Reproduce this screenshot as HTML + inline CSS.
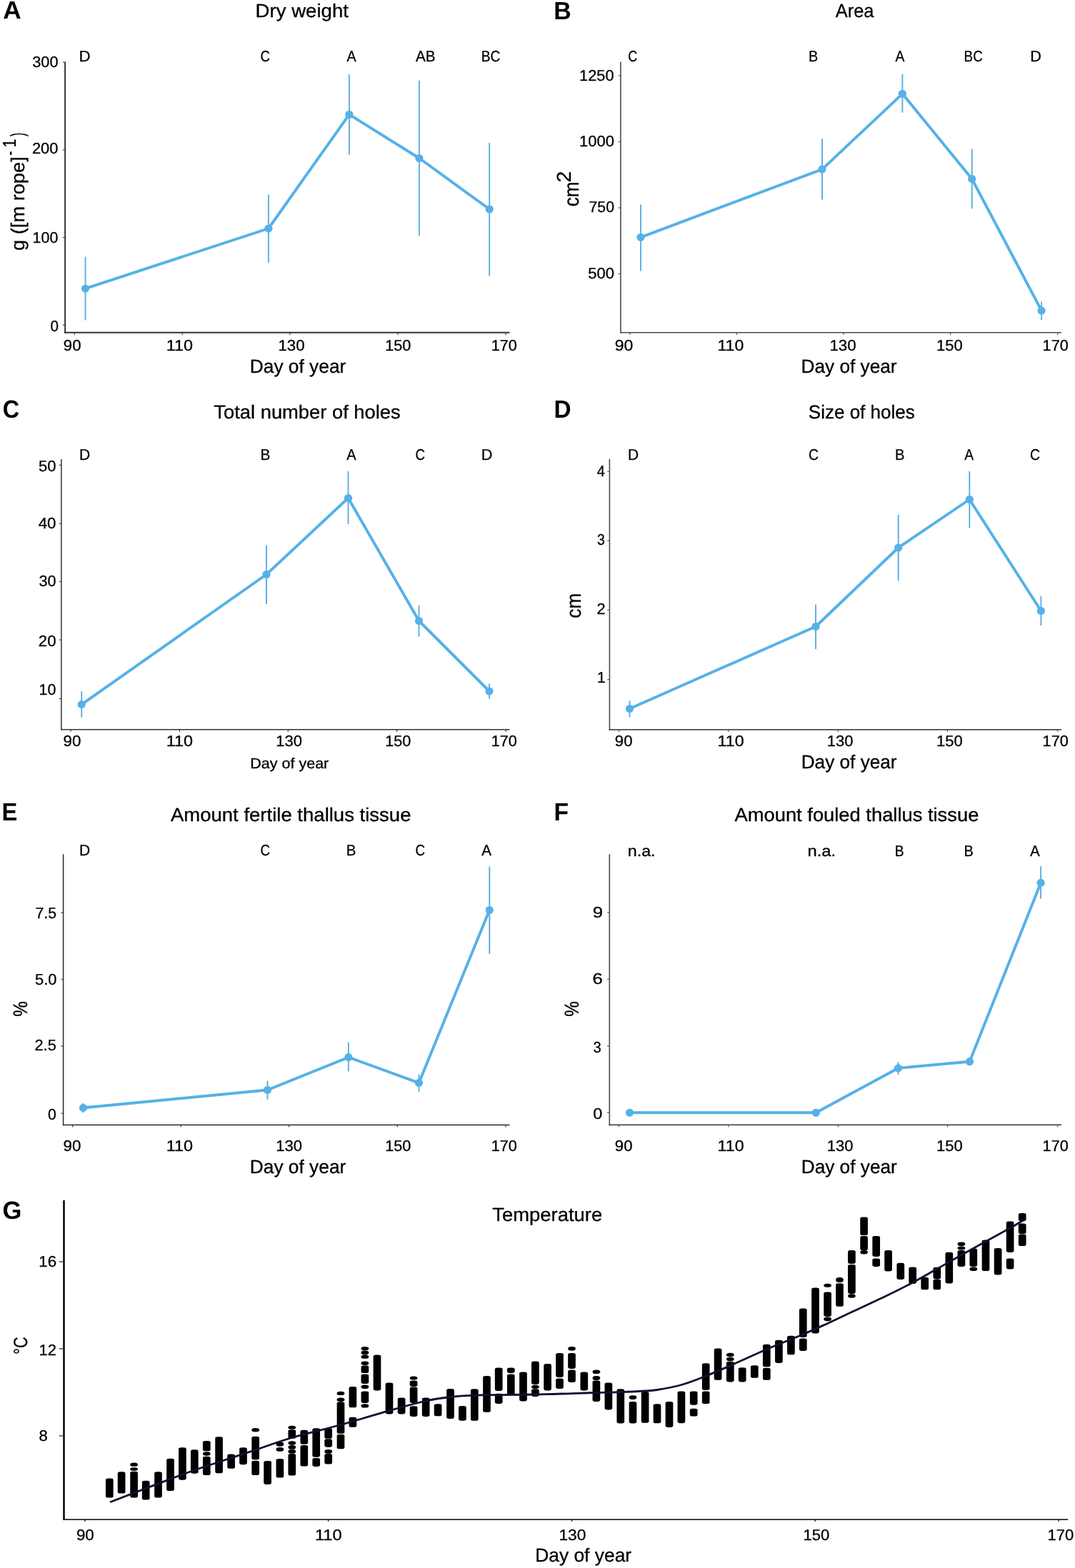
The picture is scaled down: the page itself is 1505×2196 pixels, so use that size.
<!DOCTYPE html>
<html lang="en">
<head>
<meta charset="utf-8">
<title>Figure</title>
<style>html,body{margin:0;padding:0;background:#fff}svg{display:block}</style>
</head>
<body>
<svg width="1505" height="2196" viewBox="0 0 1505 2196" font-family='"Liberation Sans", "DejaVu Sans", sans-serif' text-rendering="geometricPrecision">
<rect width="1505" height="2196" fill="#fff"/>
<line x1="91.15" y1="86.80" x2="91.15" y2="466.80" stroke="#333" stroke-width="2.0" stroke-linecap="butt"/>
<line x1="90.15" y1="465.80" x2="713.50" y2="465.80" stroke="#333" stroke-width="2.0" stroke-linecap="butt"/>
<line x1="87.75" y1="87.10" x2="91.15" y2="87.10" stroke="#333" stroke-width="1.1" stroke-linecap="butt"/>
<text transform="matrix(1.0131 0 0 1 45.15 94.32)" font-size="21.5" stroke="#000" stroke-width="0.3" fill="#000">300</text>
<line x1="87.75" y1="210.00" x2="91.15" y2="210.00" stroke="#333" stroke-width="1.1" stroke-linecap="butt"/>
<text transform="matrix(1.0171 0 0 1 44.91 214.92)" font-size="21.5" stroke="#000" stroke-width="0.3" fill="#000">200</text>
<line x1="87.75" y1="332.60" x2="91.15" y2="332.60" stroke="#333" stroke-width="1.1" stroke-linecap="butt"/>
<text transform="matrix(0.9973 0 0 1 45.60 339.52)" font-size="21.5" stroke="#000" stroke-width="0.3" fill="#000">100</text>
<line x1="87.75" y1="455.20" x2="91.15" y2="455.20" stroke="#333" stroke-width="1.1" stroke-linecap="butt"/>
<text transform="matrix(0.9587 0 0 1 70.38 463.72)" font-size="21.5" stroke="#000" stroke-width="0.3" fill="#000">0</text>
<line x1="104.20" y1="465.80" x2="104.20" y2="469.20" stroke="#333" stroke-width="1.1" stroke-linecap="butt"/>
<text transform="matrix(1.0324 0 0 1 88.81 490.80)" font-size="21.5" stroke="#000" stroke-width="0.3" fill="#000">90</text>
<line x1="255.10" y1="465.80" x2="255.10" y2="469.20" stroke="#333" stroke-width="1.1" stroke-linecap="butt"/>
<text transform="matrix(1.0908 0 0 1 232.66 490.80)" font-size="21.5" stroke="#000" stroke-width="0.3" fill="#000">110</text>
<line x1="405.90" y1="465.80" x2="405.90" y2="469.20" stroke="#333" stroke-width="1.1" stroke-linecap="butt"/>
<text transform="matrix(1.0360 0 0 1 389.44 490.80)" font-size="21.5" stroke="#000" stroke-width="0.3" fill="#000">130</text>
<line x1="557.00" y1="465.80" x2="557.00" y2="469.20" stroke="#333" stroke-width="1.1" stroke-linecap="butt"/>
<text transform="matrix(1.0092 0 0 1 539.18 490.80)" font-size="21.5" stroke="#000" stroke-width="0.3" fill="#000">150</text>
<line x1="708.10" y1="465.80" x2="708.10" y2="469.20" stroke="#333" stroke-width="1.1" stroke-linecap="butt"/>
<text transform="matrix(1.0092 0 0 1 687.68 490.80)" font-size="21.5" stroke="#000" stroke-width="0.3" fill="#000">170</text>
<line x1="119.50" y1="359.50" x2="119.50" y2="448.60" stroke="#5aaee3" stroke-width="1.9" stroke-linecap="butt"/>
<line x1="375.90" y1="272.50" x2="375.90" y2="368.00" stroke="#5aaee3" stroke-width="1.9" stroke-linecap="butt"/>
<line x1="488.90" y1="103.90" x2="488.90" y2="216.50" stroke="#5aaee3" stroke-width="1.9" stroke-linecap="butt"/>
<line x1="586.90" y1="112.80" x2="586.90" y2="330.00" stroke="#5aaee3" stroke-width="1.9" stroke-linecap="butt"/>
<line x1="685.20" y1="200.10" x2="685.20" y2="386.50" stroke="#5aaee3" stroke-width="1.9" stroke-linecap="butt"/>
<path d="M119.50 404.10 L375.90 320.00 L488.90 160.30 L586.90 221.50 L685.20 293.00" fill="none" stroke="#55b1e7" stroke-width="3.9" stroke-linejoin="round" stroke-linecap="round"/>
<circle cx="119.50" cy="404.10" r="5.6" fill="#55b1e7"/>
<circle cx="375.90" cy="320.00" r="5.6" fill="#55b1e7"/>
<circle cx="488.90" cy="160.30" r="5.6" fill="#55b1e7"/>
<circle cx="586.90" cy="221.50" r="5.6" fill="#55b1e7"/>
<circle cx="685.20" cy="293.00" r="5.6" fill="#55b1e7"/>
<text transform="matrix(1.0084 0 0 1 4.29 26.30)" font-size="35" font-weight="bold" fill="#000">A</text>
<text transform="matrix(1.0453 0 0 1 357.59 23.50)" font-size="26.4" stroke="#000" stroke-width="0.3" fill="#000">Dry weight</text>
<text transform="matrix(1.0388 0 0 1 110.41 85.50)" font-size="21.5" stroke="#000" stroke-width="0.3" fill="#000">D</text>
<text transform="matrix(0.8648 0 0 1 364.47 85.50)" font-size="21.5" stroke="#000" stroke-width="0.3" fill="#000">C</text>
<text transform="matrix(0.9163 0 0 1 485.40 85.50)" font-size="21.5" stroke="#000" stroke-width="0.3" fill="#000">A</text>
<text transform="matrix(0.9577 0 0 1 582.00 85.50)" font-size="21.5" stroke="#000" stroke-width="0.3" fill="#000">AB</text>
<text transform="matrix(0.8960 0 0 1 673.66 85.50)" font-size="21.5" stroke="#000" stroke-width="0.3" fill="#000">BC</text>
<text transform="matrix(0.9967 0 0 1 349.79 521.70)" font-size="26.4" stroke="#000" stroke-width="0.3" fill="#000">Day of year</text>
<text transform="translate(33.60 350.89) rotate(-90) scale(1.0313 1)" font-size="26.4" stroke="#000" stroke-width="0.3" fill="#000">g ([m rope]</text>
<text transform="translate(21.50 217.72) rotate(-90) scale(0.6923 1)" font-size="26" stroke="#000" stroke-width="0.3" fill="#000">-</text>
<text transform="translate(21.50 206.50) rotate(-90) scale(0.8217 1)" font-size="26" stroke="#000" stroke-width="0.3" fill="#000">1</text>
<text transform="translate(33.60 191.00) rotate(-90) scale(0.5455 1)" font-size="27.5" stroke="#000" stroke-width="0.3" fill="#000">)</text>
<line x1="868.90" y1="86.60" x2="868.90" y2="466.60" stroke="#4a4a4a" stroke-width="1.6" stroke-linecap="butt"/>
<line x1="868.10" y1="465.80" x2="1486.00" y2="465.80" stroke="#4a4a4a" stroke-width="1.6" stroke-linecap="butt"/>
<line x1="865.70" y1="105.90" x2="868.90" y2="105.90" stroke="#4a4a4a" stroke-width="1.1" stroke-linecap="butt"/>
<text transform="matrix(1.0121 0 0 1 811.08 112.72)" font-size="21.5" stroke="#000" stroke-width="0.3" fill="#000">1250</text>
<line x1="865.70" y1="198.60" x2="868.90" y2="198.60" stroke="#4a4a4a" stroke-width="1.1" stroke-linecap="butt"/>
<text transform="matrix(1.0231 0 0 1 811.06 205.42)" font-size="21.5" stroke="#000" stroke-width="0.3" fill="#000">1000</text>
<line x1="865.70" y1="291.00" x2="868.90" y2="291.00" stroke="#4a4a4a" stroke-width="1.1" stroke-linecap="butt"/>
<text transform="matrix(0.9877 0 0 1 824.54 297.42)" font-size="21.5" stroke="#000" stroke-width="0.3" fill="#000">750</text>
<line x1="865.70" y1="383.40" x2="868.90" y2="383.40" stroke="#4a4a4a" stroke-width="1.1" stroke-linecap="butt"/>
<text transform="matrix(1.0253 0 0 1 823.22 390.22)" font-size="21.5" stroke="#000" stroke-width="0.3" fill="#000">500</text>
<line x1="881.90" y1="465.80" x2="881.90" y2="469.00" stroke="#4a4a4a" stroke-width="1.1" stroke-linecap="butt"/>
<text transform="matrix(1.0728 0 0 1 860.68 490.80)" font-size="21.5" stroke="#000" stroke-width="0.3" fill="#000">90</text>
<line x1="1031.40" y1="465.80" x2="1031.40" y2="469.00" stroke="#4a4a4a" stroke-width="1.1" stroke-linecap="butt"/>
<text transform="matrix(1.0721 0 0 1 1004.49 490.80)" font-size="21.5" stroke="#000" stroke-width="0.3" fill="#000">110</text>
<line x1="1181.00" y1="465.80" x2="1181.00" y2="469.00" stroke="#4a4a4a" stroke-width="1.1" stroke-linecap="butt"/>
<text transform="matrix(1.0390 0 0 1 1161.44 490.80)" font-size="21.5" stroke="#000" stroke-width="0.3" fill="#000">130</text>
<line x1="1330.60" y1="465.80" x2="1330.60" y2="469.00" stroke="#4a4a4a" stroke-width="1.1" stroke-linecap="butt"/>
<text transform="matrix(1.0212 0 0 1 1311.06 490.80)" font-size="21.5" stroke="#000" stroke-width="0.3" fill="#000">150</text>
<line x1="1480.70" y1="465.80" x2="1480.70" y2="469.00" stroke="#4a4a4a" stroke-width="1.1" stroke-linecap="butt"/>
<text transform="matrix(1.0092 0 0 1 1459.58 490.80)" font-size="21.5" stroke="#000" stroke-width="0.3" fill="#000">170</text>
<line x1="897.00" y1="286.40" x2="897.00" y2="379.40" stroke="#5aaee3" stroke-width="1.9" stroke-linecap="butt"/>
<line x1="1151.00" y1="194.60" x2="1151.00" y2="279.40" stroke="#5aaee3" stroke-width="1.9" stroke-linecap="butt"/>
<line x1="1263.40" y1="104.00" x2="1263.40" y2="157.80" stroke="#5aaee3" stroke-width="1.9" stroke-linecap="butt"/>
<line x1="1360.70" y1="208.60" x2="1360.70" y2="292.30" stroke="#5aaee3" stroke-width="1.9" stroke-linecap="butt"/>
<line x1="1458.10" y1="422.50" x2="1458.10" y2="448.40" stroke="#5aaee3" stroke-width="1.9" stroke-linecap="butt"/>
<path d="M897.00 332.30 L1151.00 237.10 L1263.40 131.30 L1360.70 250.50 L1458.10 435.00" fill="none" stroke="#55b1e7" stroke-width="3.9" stroke-linejoin="round" stroke-linecap="round"/>
<circle cx="897.00" cy="332.30" r="5.6" fill="#55b1e7"/>
<circle cx="1151.00" cy="237.10" r="5.6" fill="#55b1e7"/>
<circle cx="1263.40" cy="131.30" r="5.6" fill="#55b1e7"/>
<circle cx="1360.70" cy="250.50" r="5.6" fill="#55b1e7"/>
<circle cx="1458.10" cy="435.00" r="5.6" fill="#55b1e7"/>
<text transform="matrix(0.9677 0 0 1 775.37 26.70)" font-size="35" font-weight="bold" fill="#000">B</text>
<text transform="matrix(0.9630 0 0 1 1169.80 24.30)" font-size="26.4" stroke="#000" stroke-width="0.3" fill="#000">Area</text>
<text transform="matrix(0.8430 0 0 1 879.29 85.50)" font-size="21.5" stroke="#000" stroke-width="0.3" fill="#000">C</text>
<text transform="matrix(0.9216 0 0 1 1131.91 85.50)" font-size="21.5" stroke="#000" stroke-width="0.3" fill="#000">B</text>
<text transform="matrix(0.8955 0 0 1 1253.50 85.50)" font-size="21.5" stroke="#000" stroke-width="0.3" fill="#000">A</text>
<text transform="matrix(0.8741 0 0 1 1349.60 85.50)" font-size="21.5" stroke="#000" stroke-width="0.3" fill="#000">BC</text>
<text transform="matrix(1.0078 0 0 1 1442.27 85.50)" font-size="21.5" stroke="#000" stroke-width="0.3" fill="#000">D</text>
<text transform="matrix(0.9929 0 0 1 1121.60 521.70)" font-size="26.4" stroke="#000" stroke-width="0.3" fill="#000">Day of year</text>
<text transform="translate(810.10 289.24) rotate(-90) scale(0.8999 1)" font-size="29" stroke="#000" stroke-width="0.3" fill="#000">cm</text>
<text transform="translate(798.60 255.51) rotate(-90) scale(1.0166 1)" font-size="27.8" stroke="#000" stroke-width="0.3" fill="#000">2</text>
<line x1="85.90" y1="643.00" x2="85.90" y2="1022.55" stroke="#333" stroke-width="1.5" stroke-linecap="butt"/>
<line x1="85.15" y1="1021.80" x2="713.50" y2="1021.80" stroke="#333" stroke-width="1.5" stroke-linecap="butt"/>
<line x1="82.75" y1="651.40" x2="85.90" y2="651.40" stroke="#333" stroke-width="1.1" stroke-linecap="butt"/>
<text transform="matrix(1.0235 0 0 1 54.02 660.02)" font-size="21.5" stroke="#000" stroke-width="0.3" fill="#000">50</text>
<line x1="82.75" y1="733.20" x2="85.90" y2="733.20" stroke="#333" stroke-width="1.1" stroke-linecap="butt"/>
<text transform="matrix(1.0393 0 0 1 53.65 739.62)" font-size="21.5" stroke="#000" stroke-width="0.3" fill="#000">40</text>
<line x1="82.75" y1="814.60" x2="85.90" y2="814.60" stroke="#333" stroke-width="1.1" stroke-linecap="butt"/>
<text transform="matrix(1.0048 0 0 1 54.45 821.02)" font-size="21.5" stroke="#000" stroke-width="0.3" fill="#000">30</text>
<line x1="82.75" y1="896.10" x2="85.90" y2="896.10" stroke="#333" stroke-width="1.1" stroke-linecap="butt"/>
<text transform="matrix(1.0334 0 0 1 53.79 905.02)" font-size="21.5" stroke="#000" stroke-width="0.3" fill="#000">20</text>
<line x1="82.75" y1="978.50" x2="85.90" y2="978.50" stroke="#333" stroke-width="1.1" stroke-linecap="butt"/>
<text transform="matrix(0.9985 0 0 1 54.60 973.42)" font-size="21.5" stroke="#000" stroke-width="0.3" fill="#000">10</text>
<line x1="99.00" y1="1021.80" x2="99.00" y2="1024.95" stroke="#333" stroke-width="1.1" stroke-linecap="butt"/>
<text transform="matrix(1.0414 0 0 1 88.60 1045.40)" font-size="21.5" stroke="#000" stroke-width="0.3" fill="#000">90</text>
<line x1="251.40" y1="1021.80" x2="251.40" y2="1024.95" stroke="#333" stroke-width="1.1" stroke-linecap="butt"/>
<text transform="matrix(1.0908 0 0 1 232.66 1045.40)" font-size="21.5" stroke="#000" stroke-width="0.3" fill="#000">110</text>
<line x1="403.30" y1="1021.80" x2="403.30" y2="1024.95" stroke="#333" stroke-width="1.1" stroke-linecap="butt"/>
<text transform="matrix(1.0241 0 0 1 386.26 1045.40)" font-size="21.5" stroke="#000" stroke-width="0.3" fill="#000">130</text>
<line x1="555.60" y1="1021.80" x2="555.60" y2="1024.95" stroke="#333" stroke-width="1.1" stroke-linecap="butt"/>
<text transform="matrix(1.0092 0 0 1 539.18 1045.40)" font-size="21.5" stroke="#000" stroke-width="0.3" fill="#000">150</text>
<line x1="708.10" y1="1021.80" x2="708.10" y2="1024.95" stroke="#333" stroke-width="1.1" stroke-linecap="butt"/>
<text transform="matrix(1.0092 0 0 1 687.68 1045.40)" font-size="21.5" stroke="#000" stroke-width="0.3" fill="#000">170</text>
<line x1="114.20" y1="968.20" x2="114.20" y2="1004.80" stroke="#5aaee3" stroke-width="1.9" stroke-linecap="butt"/>
<line x1="373.00" y1="763.50" x2="373.00" y2="846.00" stroke="#5aaee3" stroke-width="1.9" stroke-linecap="butt"/>
<line x1="487.50" y1="660.00" x2="487.50" y2="734.00" stroke="#5aaee3" stroke-width="1.9" stroke-linecap="butt"/>
<line x1="586.50" y1="848.00" x2="586.50" y2="891.50" stroke="#5aaee3" stroke-width="1.9" stroke-linecap="butt"/>
<line x1="685.00" y1="957.50" x2="685.00" y2="978.50" stroke="#5aaee3" stroke-width="1.9" stroke-linecap="butt"/>
<path d="M114.20 986.60 L373.00 804.50 L487.50 697.50 L586.50 869.50 L685.00 968.00" fill="none" stroke="#55b1e7" stroke-width="3.9" stroke-linejoin="round" stroke-linecap="round"/>
<circle cx="114.20" cy="986.60" r="5.6" fill="#55b1e7"/>
<circle cx="373.00" cy="804.50" r="5.6" fill="#55b1e7"/>
<circle cx="487.50" cy="697.50" r="5.6" fill="#55b1e7"/>
<circle cx="586.50" cy="869.50" r="5.6" fill="#55b1e7"/>
<circle cx="685.00" cy="968.00" r="5.6" fill="#55b1e7"/>
<text transform="matrix(0.9264 0 0 1 3.70 584.60)" font-size="35" font-weight="bold" fill="#000">C</text>
<text transform="matrix(1.0359 0 0 1 299.35 585.90)" font-size="26.4" stroke="#000" stroke-width="0.3" fill="#000">Total number of holes</text>
<text transform="matrix(0.9767 0 0 1 111.02 643.90)" font-size="21.5" stroke="#000" stroke-width="0.3" fill="#000">D</text>
<text transform="matrix(0.9647 0 0 1 364.44 643.90)" font-size="21.5" stroke="#000" stroke-width="0.3" fill="#000">B</text>
<text transform="matrix(0.9302 0 0 1 485.30 643.90)" font-size="21.5" stroke="#000" stroke-width="0.3" fill="#000">A</text>
<text transform="matrix(0.8721 0 0 1 581.56 643.90)" font-size="21.5" stroke="#000" stroke-width="0.3" fill="#000">C</text>
<text transform="matrix(1.0078 0 0 1 673.77 643.90)" font-size="21.5" stroke="#000" stroke-width="0.3" fill="#000">D</text>
<text transform="matrix(1.0504 0 0 1 350.18 1076.30)" font-size="20.5" stroke="#000" stroke-width="0.3" fill="#000">Day of year</text>
<line x1="853.40" y1="642.80" x2="853.40" y2="1022.70" stroke="#4a4a4a" stroke-width="1.6" stroke-linecap="butt"/>
<line x1="852.60" y1="1021.90" x2="1486.00" y2="1021.90" stroke="#4a4a4a" stroke-width="1.6" stroke-linecap="butt"/>
<line x1="850.20" y1="660.40" x2="853.40" y2="660.40" stroke="#4a4a4a" stroke-width="1.1" stroke-linecap="butt"/>
<text transform="matrix(0.9302 0 0 1 835.80 666.73)" font-size="21.5" stroke="#000" stroke-width="0.3" fill="#000">4</text>
<line x1="850.20" y1="757.30" x2="853.40" y2="757.30" stroke="#4a4a4a" stroke-width="1.1" stroke-linecap="butt"/>
<text transform="matrix(0.9018 0 0 1 836.12 762.82)" font-size="21.5" stroke="#000" stroke-width="0.3" fill="#000">3</text>
<line x1="850.20" y1="854.40" x2="853.40" y2="854.40" stroke="#4a4a4a" stroke-width="1.1" stroke-linecap="butt"/>
<text transform="matrix(1.0111 0 0 1 835.61 859.82)" font-size="21.5" stroke="#000" stroke-width="0.3" fill="#000">2</text>
<line x1="850.20" y1="951.60" x2="853.40" y2="951.60" stroke="#4a4a4a" stroke-width="1.1" stroke-linecap="butt"/>
<text transform="matrix(1.0042 0 0 1 835.69 956.42)" font-size="21.5" stroke="#000" stroke-width="0.3" fill="#000">1</text>
<line x1="866.40" y1="1021.90" x2="866.40" y2="1025.10" stroke="#4a4a4a" stroke-width="1.1" stroke-linecap="butt"/>
<text transform="matrix(1.0324 0 0 1 860.81 1045.40)" font-size="21.5" stroke="#000" stroke-width="0.3" fill="#000">90</text>
<line x1="1019.80" y1="1021.90" x2="1019.80" y2="1025.10" stroke="#4a4a4a" stroke-width="1.1" stroke-linecap="butt"/>
<text transform="matrix(1.0783 0 0 1 1004.58 1045.40)" font-size="21.5" stroke="#000" stroke-width="0.3" fill="#000">110</text>
<line x1="1173.30" y1="1021.90" x2="1173.30" y2="1025.10" stroke="#4a4a4a" stroke-width="1.1" stroke-linecap="butt"/>
<text transform="matrix(1.0212 0 0 1 1157.76 1045.40)" font-size="21.5" stroke="#000" stroke-width="0.3" fill="#000">130</text>
<line x1="1326.40" y1="1021.90" x2="1326.40" y2="1025.10" stroke="#4a4a4a" stroke-width="1.1" stroke-linecap="butt"/>
<text transform="matrix(1.0212 0 0 1 1311.06 1045.40)" font-size="21.5" stroke="#000" stroke-width="0.3" fill="#000">150</text>
<line x1="1480.70" y1="1021.90" x2="1480.70" y2="1025.10" stroke="#4a4a4a" stroke-width="1.1" stroke-linecap="butt"/>
<text transform="matrix(1.0092 0 0 1 1459.58 1045.40)" font-size="21.5" stroke="#000" stroke-width="0.3" fill="#000">170</text>
<line x1="881.50" y1="981.30" x2="881.50" y2="1004.40" stroke="#5aaee3" stroke-width="1.9" stroke-linecap="butt"/>
<line x1="1142.00" y1="846.50" x2="1142.00" y2="909.00" stroke="#5aaee3" stroke-width="1.9" stroke-linecap="butt"/>
<line x1="1257.70" y1="721.00" x2="1257.70" y2="813.50" stroke="#5aaee3" stroke-width="1.9" stroke-linecap="butt"/>
<line x1="1357.30" y1="660.00" x2="1357.30" y2="739.50" stroke="#5aaee3" stroke-width="1.9" stroke-linecap="butt"/>
<line x1="1457.40" y1="835.00" x2="1457.40" y2="876.00" stroke="#5aaee3" stroke-width="1.9" stroke-linecap="butt"/>
<path d="M881.50 992.50 L1142.00 877.50 L1257.70 767.00 L1357.30 699.50 L1457.40 855.50" fill="none" stroke="#55b1e7" stroke-width="3.9" stroke-linejoin="round" stroke-linecap="round"/>
<circle cx="881.50" cy="992.50" r="5.6" fill="#55b1e7"/>
<circle cx="1142.00" cy="877.50" r="5.6" fill="#55b1e7"/>
<circle cx="1257.70" cy="767.00" r="5.6" fill="#55b1e7"/>
<circle cx="1357.30" cy="699.50" r="5.6" fill="#55b1e7"/>
<circle cx="1457.40" cy="855.50" r="5.6" fill="#55b1e7"/>
<text transform="matrix(0.9524 0 0 1 775.40 584.90)" font-size="35" font-weight="bold" fill="#000">D</text>
<text transform="matrix(0.9852 0 0 1 1131.86 585.60)" font-size="26.4" stroke="#000" stroke-width="0.3" fill="#000">Size of holes</text>
<text transform="matrix(0.9767 0 0 1 879.02 643.90)" font-size="21.5" stroke="#000" stroke-width="0.3" fill="#000">D</text>
<text transform="matrix(0.9084 0 0 1 1131.92 643.90)" font-size="21.5" stroke="#000" stroke-width="0.3" fill="#000">C</text>
<text transform="matrix(0.9388 0 0 1 1252.89 643.90)" font-size="21.5" stroke="#000" stroke-width="0.3" fill="#000">B</text>
<text transform="matrix(0.8955 0 0 1 1350.20 643.90)" font-size="21.5" stroke="#000" stroke-width="0.3" fill="#000">A</text>
<text transform="matrix(0.9084 0 0 1 1442.02 643.90)" font-size="21.5" stroke="#000" stroke-width="0.3" fill="#000">C</text>
<text transform="matrix(0.9922 0 0 1 1121.70 1076.30)" font-size="26.4" stroke="#000" stroke-width="0.3" fill="#000">Day of year</text>
<text transform="translate(812.60 865.64) rotate(-90) scale(0.9157 1)" font-size="28.5" stroke="#000" stroke-width="0.3" fill="#000">cm</text>
<line x1="88.60" y1="1196.30" x2="88.60" y2="1576.15" stroke="#2a2a2a" stroke-width="1.5" stroke-linecap="butt"/>
<line x1="87.85" y1="1575.40" x2="713.50" y2="1575.40" stroke="#2a2a2a" stroke-width="1.5" stroke-linecap="butt"/>
<line x1="85.45" y1="1278.40" x2="88.60" y2="1278.40" stroke="#2a2a2a" stroke-width="1.1" stroke-linecap="butt"/>
<text transform="matrix(0.9845 0 0 1 49.54 1286.12)" font-size="21.5" stroke="#000" stroke-width="0.3" fill="#000">7.5</text>
<line x1="85.45" y1="1371.70" x2="88.60" y2="1371.70" stroke="#2a2a2a" stroke-width="1.1" stroke-linecap="butt"/>
<text transform="matrix(1.0194 0 0 1 49.02 1378.92)" font-size="21.5" stroke="#000" stroke-width="0.3" fill="#000">5.0</text>
<line x1="85.45" y1="1465.20" x2="88.60" y2="1465.20" stroke="#2a2a2a" stroke-width="1.1" stroke-linecap="butt"/>
<text transform="matrix(1.0130 0 0 1 48.51 1470.52)" font-size="21.5" stroke="#000" stroke-width="0.3" fill="#000">2.5</text>
<line x1="85.45" y1="1559.30" x2="88.60" y2="1559.30" stroke="#2a2a2a" stroke-width="1.1" stroke-linecap="butt"/>
<text transform="matrix(0.9872 0 0 1 66.96 1567.72)" font-size="21.5" stroke="#000" stroke-width="0.3" fill="#000">0</text>
<line x1="101.70" y1="1575.40" x2="101.70" y2="1578.55" stroke="#2a2a2a" stroke-width="1.1" stroke-linecap="butt"/>
<text transform="matrix(1.0414 0 0 1 88.60 1612.40)" font-size="21.5" stroke="#000" stroke-width="0.3" fill="#000">90</text>
<line x1="253.20" y1="1575.40" x2="253.20" y2="1578.55" stroke="#2a2a2a" stroke-width="1.1" stroke-linecap="butt"/>
<text transform="matrix(1.0908 0 0 1 232.66 1612.40)" font-size="21.5" stroke="#000" stroke-width="0.3" fill="#000">110</text>
<line x1="404.70" y1="1575.40" x2="404.70" y2="1578.55" stroke="#2a2a2a" stroke-width="1.1" stroke-linecap="butt"/>
<text transform="matrix(1.0241 0 0 1 386.26 1612.40)" font-size="21.5" stroke="#000" stroke-width="0.3" fill="#000">130</text>
<line x1="556.20" y1="1575.40" x2="556.20" y2="1578.55" stroke="#2a2a2a" stroke-width="1.1" stroke-linecap="butt"/>
<text transform="matrix(1.0092 0 0 1 539.18 1612.40)" font-size="21.5" stroke="#000" stroke-width="0.3" fill="#000">150</text>
<line x1="708.10" y1="1575.40" x2="708.10" y2="1578.55" stroke="#2a2a2a" stroke-width="1.1" stroke-linecap="butt"/>
<text transform="matrix(1.0092 0 0 1 687.68 1612.40)" font-size="21.5" stroke="#000" stroke-width="0.3" fill="#000">170</text>
<line x1="116.50" y1="1545.00" x2="116.50" y2="1558.50" stroke="#5aaee3" stroke-width="1.9" stroke-linecap="butt"/>
<line x1="374.50" y1="1513.50" x2="374.50" y2="1540.00" stroke="#5aaee3" stroke-width="1.9" stroke-linecap="butt"/>
<line x1="487.90" y1="1459.80" x2="487.90" y2="1500.60" stroke="#5aaee3" stroke-width="1.9" stroke-linecap="butt"/>
<line x1="586.50" y1="1504.60" x2="586.50" y2="1528.90" stroke="#5aaee3" stroke-width="1.9" stroke-linecap="butt"/>
<line x1="685.30" y1="1213.50" x2="685.30" y2="1336.00" stroke="#5aaee3" stroke-width="1.9" stroke-linecap="butt"/>
<path d="M116.50 1551.50 L374.50 1526.50 L487.90 1480.70 L586.50 1516.60 L685.30 1274.50" fill="none" stroke="#55b1e7" stroke-width="3.9" stroke-linejoin="round" stroke-linecap="round"/>
<circle cx="116.50" cy="1551.50" r="5.6" fill="#55b1e7"/>
<circle cx="374.50" cy="1526.50" r="5.6" fill="#55b1e7"/>
<circle cx="487.90" cy="1480.70" r="5.6" fill="#55b1e7"/>
<circle cx="586.50" cy="1516.60" r="5.6" fill="#55b1e7"/>
<circle cx="685.30" cy="1274.50" r="5.6" fill="#55b1e7"/>
<text transform="matrix(0.9323 0 0 1 2.54 1149.20)" font-size="35" font-weight="bold" fill="#000">E</text>
<text transform="matrix(1.0430 0 0 1 238.90 1149.90)" font-size="26.4" stroke="#000" stroke-width="0.3" fill="#000">Amount fertile thallus tissue</text>
<text transform="matrix(0.9767 0 0 1 111.02 1198.40)" font-size="21.5" stroke="#000" stroke-width="0.3" fill="#000">D</text>
<text transform="matrix(0.8721 0 0 1 364.56 1198.40)" font-size="21.5" stroke="#000" stroke-width="0.3" fill="#000">C</text>
<text transform="matrix(0.9475 0 0 1 484.87 1198.40)" font-size="21.5" stroke="#000" stroke-width="0.3" fill="#000">B</text>
<text transform="matrix(0.8721 0 0 1 581.56 1198.40)" font-size="21.5" stroke="#000" stroke-width="0.3" fill="#000">C</text>
<text transform="matrix(0.9580 0 0 1 674.20 1198.40)" font-size="21.5" stroke="#000" stroke-width="0.3" fill="#000">A</text>
<text transform="matrix(0.9967 0 0 1 349.79 1642.70)" font-size="26.4" stroke="#000" stroke-width="0.3" fill="#000">Day of year</text>
<text transform="translate(38.40 1423.83) rotate(-90) scale(0.8649 1)" font-size="28" stroke="#000" stroke-width="0.3" fill="#000">%</text>
<line x1="853.30" y1="1196.30" x2="853.30" y2="1576.20" stroke="#4a4a4a" stroke-width="1.6" stroke-linecap="butt"/>
<line x1="852.50" y1="1575.40" x2="1486.00" y2="1575.40" stroke="#4a4a4a" stroke-width="1.6" stroke-linecap="butt"/>
<line x1="850.10" y1="1278.00" x2="853.30" y2="1278.00" stroke="#4a4a4a" stroke-width="1.1" stroke-linecap="butt"/>
<text transform="matrix(1.1974 0 0 1 829.87 1284.82)" font-size="21.5" stroke="#000" stroke-width="0.3" fill="#000">9</text>
<line x1="850.10" y1="1371.40" x2="853.30" y2="1371.40" stroke="#4a4a4a" stroke-width="1.1" stroke-linecap="butt"/>
<text transform="matrix(1.1974 0 0 1 829.61 1377.72)" font-size="21.5" stroke="#000" stroke-width="0.3" fill="#000">6</text>
<line x1="850.10" y1="1465.00" x2="853.30" y2="1465.00" stroke="#4a4a4a" stroke-width="1.1" stroke-linecap="butt"/>
<text transform="matrix(0.9397 0 0 1 830.49 1473.82)" font-size="21.5" stroke="#000" stroke-width="0.3" fill="#000">3</text>
<line x1="850.10" y1="1558.30" x2="853.30" y2="1558.30" stroke="#4a4a4a" stroke-width="1.1" stroke-linecap="butt"/>
<text transform="matrix(1.0916 0 0 1 830.20 1566.82)" font-size="21.5" stroke="#000" stroke-width="0.3" fill="#000">0</text>
<line x1="866.40" y1="1575.40" x2="866.40" y2="1578.60" stroke="#4a4a4a" stroke-width="1.1" stroke-linecap="butt"/>
<text transform="matrix(1.0324 0 0 1 860.81 1612.40)" font-size="21.5" stroke="#000" stroke-width="0.3" fill="#000">90</text>
<line x1="1019.80" y1="1575.40" x2="1019.80" y2="1578.60" stroke="#4a4a4a" stroke-width="1.1" stroke-linecap="butt"/>
<text transform="matrix(1.0783 0 0 1 1004.58 1612.40)" font-size="21.5" stroke="#000" stroke-width="0.3" fill="#000">110</text>
<line x1="1173.30" y1="1575.40" x2="1173.30" y2="1578.60" stroke="#4a4a4a" stroke-width="1.1" stroke-linecap="butt"/>
<text transform="matrix(1.0212 0 0 1 1157.76 1612.40)" font-size="21.5" stroke="#000" stroke-width="0.3" fill="#000">130</text>
<line x1="1326.40" y1="1575.40" x2="1326.40" y2="1578.60" stroke="#4a4a4a" stroke-width="1.1" stroke-linecap="butt"/>
<text transform="matrix(1.0212 0 0 1 1311.06 1612.40)" font-size="21.5" stroke="#000" stroke-width="0.3" fill="#000">150</text>
<line x1="1480.70" y1="1575.40" x2="1480.70" y2="1578.60" stroke="#4a4a4a" stroke-width="1.1" stroke-linecap="butt"/>
<text transform="matrix(1.0092 0 0 1 1459.58 1612.40)" font-size="21.5" stroke="#000" stroke-width="0.3" fill="#000">170</text>
<line x1="1257.40" y1="1487.30" x2="1257.40" y2="1505.00" stroke="#5aaee3" stroke-width="1.9" stroke-linecap="butt"/>
<line x1="1457.10" y1="1213.30" x2="1457.10" y2="1258.70" stroke="#5aaee3" stroke-width="1.9" stroke-linecap="butt"/>
<path d="M881.50 1558.30 L1142.40 1558.30 L1257.40 1496.00 L1357.50 1486.70 L1457.10 1236.40" fill="none" stroke="#55b1e7" stroke-width="3.9" stroke-linejoin="round" stroke-linecap="round"/>
<circle cx="881.50" cy="1558.30" r="5.6" fill="#55b1e7"/>
<circle cx="1142.40" cy="1558.30" r="5.6" fill="#55b1e7"/>
<circle cx="1257.40" cy="1496.00" r="5.6" fill="#55b1e7"/>
<circle cx="1357.50" cy="1486.70" r="5.6" fill="#55b1e7"/>
<circle cx="1457.10" cy="1236.40" r="5.6" fill="#55b1e7"/>
<text transform="matrix(0.9615 0 0 1 775.38 1149.20)" font-size="35" font-weight="bold" fill="#000">F</text>
<text transform="matrix(1.0357 0 0 1 1028.50 1150.00)" font-size="26.4" stroke="#000" stroke-width="0.3" fill="#000">Amount fouled thallus tissue</text>
<text transform="matrix(1.0801 0 0 1 878.81 1198.70)" font-size="21.5" stroke="#000" stroke-width="0.3" fill="#000">n.a.</text>
<text transform="matrix(1.1015 0 0 1 1130.58 1198.70)" font-size="21.5" stroke="#000" stroke-width="0.3" fill="#000">n.a.</text>
<text transform="matrix(0.8958 0 0 1 1252.86 1198.70)" font-size="21.5" stroke="#000" stroke-width="0.3" fill="#000">B</text>
<text transform="matrix(0.9302 0 0 1 1349.50 1198.70)" font-size="21.5" stroke="#000" stroke-width="0.3" fill="#000">B</text>
<text transform="matrix(0.9372 0 0 1 1442.20 1198.70)" font-size="21.5" stroke="#000" stroke-width="0.3" fill="#000">A</text>
<text transform="matrix(0.9937 0 0 1 1121.70 1642.70)" font-size="26.4" stroke="#000" stroke-width="0.3" fill="#000">Day of year</text>
<text transform="translate(810.40 1423.83) rotate(-90) scale(0.8649 1)" font-size="28" stroke="#000" stroke-width="0.3" fill="#000">%</text>
<g fill="#000">
<rect x="147.95" y="2070.50" width="10.7" height="27.10" rx="3.6" ry="2.40"/>
<rect x="164.75" y="2061.20" width="10.7" height="30.40" rx="3.6" ry="2.40"/>
<rect x="182.25" y="2048.60" width="10.7" height="5.20" rx="4.6" ry="2.60"/>
<rect x="182.25" y="2055.20" width="10.7" height="4.60" rx="4.6" ry="2.30"/>
<rect x="182.25" y="2060.70" width="10.7" height="36.90" rx="3.6" ry="2.40"/>
<rect x="198.85" y="2073.70" width="10.7" height="26.90" rx="3.6" ry="2.40"/>
<rect x="216.15" y="2061.20" width="10.7" height="36.40" rx="3.6" ry="2.40"/>
<rect x="233.15" y="2042.80" width="10.7" height="45.30" rx="3.6" ry="2.40"/>
<rect x="250.05" y="2027.30" width="10.7" height="45.40" rx="3.6" ry="2.40"/>
<rect x="266.95" y="2030.30" width="10.7" height="33.40" rx="3.6" ry="2.40"/>
<rect x="283.95" y="2017.90" width="10.7" height="14.40" rx="3.6" ry="2.40"/>
<rect x="283.95" y="2033.20" width="10.7" height="5.60" rx="4.6" ry="2.80"/>
<rect x="283.95" y="2039.70" width="10.7" height="26.40" rx="3.6" ry="2.40"/>
<rect x="301.25" y="2012.30" width="10.7" height="51.00" rx="3.6" ry="2.40"/>
<rect x="318.25" y="2036.60" width="10.7" height="20.20" rx="3.6" ry="2.40"/>
<rect x="335.15" y="2027.30" width="10.7" height="23.90" rx="3.6" ry="2.40"/>
<rect x="352.35" y="2000.00" width="10.7" height="5.30" rx="4.6" ry="2.65"/>
<rect x="352.35" y="2011.70" width="10.7" height="32.60" rx="3.6" ry="2.40"/>
<rect x="352.35" y="2045.70" width="10.7" height="20.40" rx="3.6" ry="2.40"/>
<rect x="369.25" y="2046.10" width="10.7" height="32.90" rx="3.6" ry="2.40"/>
<rect x="386.55" y="2019.20" width="10.7" height="6.50" rx="4.6" ry="3.25"/>
<rect x="386.55" y="2027.10" width="10.7" height="5.60" rx="4.6" ry="2.80"/>
<rect x="386.55" y="2043.10" width="10.7" height="26.50" rx="3.6" ry="2.40"/>
<rect x="403.45" y="1996.80" width="10.7" height="5.00" rx="4.6" ry="2.50"/>
<rect x="403.45" y="2002.20" width="10.7" height="12.60" rx="3.6" ry="2.40"/>
<rect x="403.45" y="2018.20" width="10.7" height="5.50" rx="4.6" ry="2.75"/>
<rect x="403.45" y="2024.10" width="10.7" height="5.60" rx="4.6" ry="2.80"/>
<rect x="403.45" y="2030.10" width="10.7" height="5.60" rx="4.6" ry="2.80"/>
<rect x="403.45" y="2036.10" width="10.7" height="30.50" rx="3.6" ry="2.40"/>
<rect x="420.45" y="2002.80" width="10.7" height="19.90" rx="3.6" ry="2.40"/>
<rect x="420.45" y="2024.10" width="10.7" height="29.50" rx="3.6" ry="2.40"/>
<rect x="437.35" y="2000.20" width="10.7" height="40.50" rx="3.6" ry="2.40"/>
<rect x="437.35" y="2042.10" width="10.7" height="11.90" rx="3.6" ry="2.40"/>
<rect x="454.35" y="2000.20" width="10.7" height="14.60" rx="3.6" ry="2.40"/>
<rect x="454.35" y="2015.20" width="10.7" height="11.50" rx="3.6" ry="2.40"/>
<rect x="454.35" y="2030.10" width="10.7" height="5.60" rx="4.6" ry="2.80"/>
<rect x="454.35" y="2036.10" width="10.7" height="14.50" rx="3.6" ry="2.40"/>
<rect x="471.65" y="1948.80" width="10.7" height="5.20" rx="4.6" ry="2.60"/>
<rect x="471.65" y="1957.40" width="10.7" height="5.50" rx="4.6" ry="2.75"/>
<rect x="471.65" y="1963.30" width="10.7" height="44.50" rx="3.6" ry="2.40"/>
<rect x="471.65" y="2008.80" width="10.7" height="20.50" rx="3.6" ry="2.40"/>
<rect x="488.55" y="1942.00" width="10.7" height="29.30" rx="3.6" ry="2.40"/>
<rect x="488.55" y="1984.70" width="10.7" height="14.10" rx="3.6" ry="2.40"/>
<rect x="505.55" y="1886.00" width="10.7" height="5.20" rx="4.6" ry="2.60"/>
<rect x="505.55" y="1891.60" width="10.7" height="5.60" rx="4.6" ry="2.80"/>
<rect x="505.55" y="1897.60" width="10.7" height="5.20" rx="4.6" ry="2.60"/>
<rect x="505.55" y="1906.50" width="10.7" height="5.60" rx="4.6" ry="2.80"/>
<rect x="505.55" y="1912.50" width="10.7" height="10.60" rx="3.6" ry="2.40"/>
<rect x="505.55" y="1924.50" width="10.7" height="13.50" rx="3.6" ry="2.40"/>
<rect x="505.55" y="1939.40" width="10.7" height="5.60" rx="4.6" ry="2.80"/>
<rect x="505.55" y="1948.40" width="10.7" height="16.50" rx="3.6" ry="2.40"/>
<rect x="505.55" y="1966.30" width="10.7" height="5.20" rx="4.6" ry="2.60"/>
<rect x="522.65" y="1897.60" width="10.7" height="49.80" rx="3.6" ry="2.40"/>
<rect x="539.65" y="1936.40" width="10.7" height="44.10" rx="3.6" ry="2.40"/>
<rect x="556.75" y="1957.40" width="10.7" height="23.10" rx="3.6" ry="2.40"/>
<rect x="573.75" y="1927.50" width="10.7" height="5.00" rx="4.6" ry="2.50"/>
<rect x="573.75" y="1933.40" width="10.7" height="8.60" rx="3.6" ry="2.40"/>
<rect x="573.75" y="1942.40" width="10.7" height="22.50" rx="3.6" ry="2.40"/>
<rect x="573.75" y="1969.30" width="10.7" height="14.60" rx="3.6" ry="2.40"/>
<rect x="590.85" y="1957.40" width="10.7" height="26.50" rx="3.6" ry="2.40"/>
<rect x="607.75" y="1966.30" width="10.7" height="17.00" rx="3.6" ry="2.40"/>
<rect x="625.15" y="1945.00" width="10.7" height="41.90" rx="3.6" ry="2.40"/>
<rect x="642.05" y="1969.10" width="10.7" height="20.60" rx="3.6" ry="2.40"/>
<rect x="658.95" y="1945.30" width="10.7" height="44.50" rx="3.6" ry="2.40"/>
<rect x="676.15" y="1927.00" width="10.7" height="50.80" rx="3.6" ry="2.40"/>
<rect x="692.85" y="1915.40" width="10.7" height="32.50" rx="3.6" ry="2.40"/>
<rect x="692.85" y="1951.70" width="10.7" height="14.20" rx="3.6" ry="2.40"/>
<rect x="709.95" y="1915.40" width="10.7" height="7.60" rx="3.6" ry="2.40"/>
<rect x="709.95" y="1924.40" width="10.7" height="29.50" rx="3.6" ry="2.40"/>
<rect x="727.15" y="1921.40" width="10.7" height="41.10" rx="3.6" ry="2.40"/>
<rect x="744.05" y="1906.50" width="10.7" height="32.50" rx="3.6" ry="2.40"/>
<rect x="744.05" y="1939.80" width="10.7" height="5.10" rx="4.6" ry="2.55"/>
<rect x="744.05" y="1945.30" width="10.7" height="10.60" rx="3.6" ry="2.40"/>
<rect x="761.25" y="1909.90" width="10.7" height="37.60" rx="3.6" ry="2.40"/>
<rect x="778.15" y="1894.90" width="10.7" height="34.10" rx="3.6" ry="2.40"/>
<rect x="778.15" y="1930.40" width="10.7" height="14.50" rx="3.6" ry="2.40"/>
<rect x="795.15" y="1885.90" width="10.7" height="5.60" rx="4.6" ry="2.80"/>
<rect x="795.15" y="1894.90" width="10.7" height="22.10" rx="3.6" ry="2.40"/>
<rect x="795.15" y="1918.40" width="10.7" height="17.60" rx="3.6" ry="2.40"/>
<rect x="812.45" y="1921.40" width="10.7" height="26.10" rx="3.6" ry="2.40"/>
<rect x="829.55" y="1918.40" width="10.7" height="5.60" rx="4.6" ry="2.80"/>
<rect x="829.55" y="1927.00" width="10.7" height="6.00" rx="4.6" ry="3.00"/>
<rect x="829.55" y="1933.40" width="10.7" height="29.50" rx="3.6" ry="2.40"/>
<rect x="846.55" y="1936.40" width="10.7" height="38.00" rx="3.6" ry="2.40"/>
<rect x="863.45" y="1945.30" width="10.7" height="48.10" rx="3.6" ry="2.40"/>
<rect x="880.65" y="1954.30" width="10.7" height="5.60" rx="4.6" ry="2.80"/>
<rect x="880.65" y="1962.90" width="10.7" height="30.50" rx="3.6" ry="2.40"/>
<rect x="897.75" y="1948.90" width="10.7" height="43.90" rx="3.6" ry="2.40"/>
<rect x="914.65" y="1966.20" width="10.7" height="27.10" rx="3.6" ry="2.40"/>
<rect x="931.65" y="1963.00" width="10.7" height="35.90" rx="3.6" ry="2.40"/>
<rect x="948.55" y="1948.60" width="10.7" height="44.60" rx="3.6" ry="2.40"/>
<rect x="965.85" y="1948.60" width="10.7" height="19.10" rx="3.6" ry="2.40"/>
<rect x="965.85" y="1972.70" width="10.7" height="10.90" rx="3.6" ry="2.40"/>
<rect x="982.85" y="1909.30" width="10.7" height="37.50" rx="3.6" ry="2.40"/>
<rect x="982.85" y="1948.60" width="10.7" height="17.50" rx="3.6" ry="2.40"/>
<rect x="999.75" y="1888.40" width="10.7" height="44.40" rx="3.6" ry="2.40"/>
<rect x="1016.95" y="1894.70" width="10.7" height="5.60" rx="4.6" ry="2.80"/>
<rect x="1016.95" y="1900.70" width="10.7" height="5.60" rx="4.6" ry="2.80"/>
<rect x="1016.95" y="1906.70" width="10.7" height="28.70" rx="3.6" ry="2.40"/>
<rect x="1033.85" y="1915.30" width="10.7" height="20.10" rx="3.6" ry="2.40"/>
<rect x="1050.95" y="1912.30" width="10.7" height="17.50" rx="3.6" ry="2.40"/>
<rect x="1067.95" y="1882.80" width="10.7" height="31.50" rx="3.6" ry="2.40"/>
<rect x="1067.95" y="1915.70" width="10.7" height="17.10" rx="3.6" ry="2.40"/>
<rect x="1085.05" y="1876.80" width="10.7" height="32.10" rx="3.6" ry="2.40"/>
<rect x="1102.05" y="1870.80" width="10.7" height="26.50" rx="3.6" ry="2.40"/>
<rect x="1118.95" y="1832.60" width="10.7" height="40.40" rx="3.6" ry="2.40"/>
<rect x="1118.95" y="1874.40" width="10.7" height="17.60" rx="3.6" ry="2.40"/>
<rect x="1136.15" y="1803.50" width="10.7" height="64.00" rx="3.6" ry="2.40"/>
<rect x="1153.25" y="1797.70" width="10.7" height="5.10" rx="4.6" ry="2.55"/>
<rect x="1153.25" y="1809.40" width="10.7" height="34.50" rx="3.6" ry="2.40"/>
<rect x="1153.25" y="1844.50" width="10.7" height="5.70" rx="4.6" ry="2.85"/>
<rect x="1170.15" y="1788.90" width="10.7" height="7.00" rx="4.6" ry="3.50"/>
<rect x="1170.15" y="1797.30" width="10.7" height="32.50" rx="3.6" ry="2.40"/>
<rect x="1187.05" y="1750.90" width="10.7" height="19.10" rx="3.6" ry="2.40"/>
<rect x="1187.05" y="1771.00" width="10.7" height="40.90" rx="3.6" ry="2.40"/>
<rect x="1187.05" y="1812.20" width="10.7" height="5.60" rx="4.6" ry="2.80"/>
<rect x="1204.25" y="1704.60" width="10.7" height="25.50" rx="3.6" ry="2.40"/>
<rect x="1204.25" y="1731.10" width="10.7" height="20.00" rx="3.6" ry="2.40"/>
<rect x="1204.25" y="1751.10" width="10.7" height="5.50" rx="4.6" ry="2.75"/>
<rect x="1221.35" y="1730.90" width="10.7" height="29.10" rx="3.6" ry="2.40"/>
<rect x="1221.35" y="1762.40" width="10.7" height="11.60" rx="3.6" ry="2.40"/>
<rect x="1238.25" y="1750.90" width="10.7" height="29.50" rx="3.6" ry="2.40"/>
<rect x="1255.45" y="1768.80" width="10.7" height="23.10" rx="3.6" ry="2.40"/>
<rect x="1272.35" y="1774.40" width="10.7" height="23.50" rx="3.6" ry="2.40"/>
<rect x="1289.35" y="1788.70" width="10.7" height="17.60" rx="3.6" ry="2.40"/>
<rect x="1306.45" y="1774.80" width="10.7" height="16.70" rx="3.6" ry="2.40"/>
<rect x="1306.45" y="1791.70" width="10.7" height="14.60" rx="3.6" ry="2.40"/>
<rect x="1323.45" y="1753.80" width="10.7" height="43.70" rx="3.6" ry="2.40"/>
<rect x="1340.55" y="1739.50" width="10.7" height="5.60" rx="4.6" ry="2.80"/>
<rect x="1340.55" y="1745.50" width="10.7" height="5.00" rx="4.6" ry="2.50"/>
<rect x="1340.55" y="1751.10" width="10.7" height="22.90" rx="3.6" ry="2.40"/>
<rect x="1357.45" y="1748.50" width="10.7" height="25.50" rx="3.6" ry="2.40"/>
<rect x="1357.45" y="1774.40" width="10.7" height="5.60" rx="4.6" ry="2.80"/>
<rect x="1374.65" y="1736.50" width="10.7" height="43.50" rx="3.6" ry="2.40"/>
<rect x="1391.75" y="1748.10" width="10.7" height="37.40" rx="3.6" ry="2.40"/>
<rect x="1408.75" y="1710.60" width="10.7" height="43.40" rx="3.6" ry="2.40"/>
<rect x="1408.75" y="1762.40" width="10.7" height="15.00" rx="3.6" ry="2.40"/>
<rect x="1425.85" y="1699.00" width="10.7" height="11.20" rx="3.6" ry="2.40"/>
<rect x="1425.85" y="1713.60" width="10.7" height="14.50" rx="3.6" ry="2.40"/>
<rect x="1425.85" y="1728.50" width="10.7" height="16.60" rx="3.6" ry="2.40"/>
</g>
<path d="M154.1 2103.7 C171.0 2097.2 230.0 2074.4 255.4 2065.0 C280.8 2055.6 289.6 2053.2 306.6 2047.5 C323.7 2041.8 340.7 2036.3 357.7 2030.6 C374.7 2024.9 388.9 2019.3 408.8 2013.5 C428.7 2007.7 454.3 2001.8 477.0 1995.5 C499.7 1989.2 525.1 1981.2 545.0 1975.6 C564.9 1970.0 582.0 1965.2 596.2 1962.0 C610.5 1958.8 619.2 1957.8 630.5 1956.5 C641.8 1955.2 652.8 1954.7 664.0 1954.2 C675.2 1953.7 683.8 1953.8 698.0 1953.6 C712.2 1953.4 732.3 1953.3 749.4 1953.0 C766.5 1952.7 786.2 1952.0 800.5 1951.6 C814.8 1951.2 823.6 1950.7 835.0 1950.4 C846.4 1950.1 857.5 1950.0 868.8 1949.6 C880.1 1949.2 894.5 1948.5 903.0 1948.0 C911.5 1947.5 911.5 1947.9 920.0 1946.5 C928.5 1945.1 942.5 1942.7 953.9 1939.5 C965.3 1936.3 976.8 1931.6 988.2 1927.1 C999.6 1922.6 1008.1 1918.8 1022.3 1912.6 C1036.5 1906.4 1056.3 1897.0 1073.3 1889.7 C1090.3 1882.4 1110.1 1874.8 1124.3 1868.7 C1138.5 1862.7 1147.2 1858.6 1158.6 1853.4 C1169.9 1848.2 1178.2 1844.2 1192.4 1837.6 C1206.6 1830.9 1229.4 1820.4 1243.6 1813.5 C1257.8 1806.6 1266.3 1802.3 1277.7 1796.2 C1289.1 1790.1 1300.4 1783.5 1311.8 1777.1 C1323.2 1770.7 1334.5 1764.1 1345.9 1757.7 C1357.3 1751.3 1368.6 1745.1 1380.0 1738.8 C1391.4 1732.5 1405.3 1724.9 1414.1 1719.9 C1422.9 1714.9 1429.8 1710.7 1433.0 1708.8" fill="none" stroke="#0e1230" stroke-width="2.8" stroke-linecap="butt"/>
<line x1="89.50" y1="1680.90" x2="89.50" y2="2128.80" stroke="#000" stroke-width="2.5" stroke-linecap="butt"/>
<line x1="88.25" y1="2128.05" x2="1495.00" y2="2128.05" stroke="#262626" stroke-width="1.7" stroke-linecap="butt"/>
<line x1="82.70" y1="1767.00" x2="89.50" y2="1767.00" stroke="#333" stroke-width="1.3" stroke-linecap="butt"/>
<text transform="matrix(1.0401 0 0 1 54.23 1773.62)" font-size="21.5" stroke="#000" stroke-width="0.3" fill="#000">16</text>
<line x1="82.70" y1="1888.90" x2="89.50" y2="1888.90" stroke="#333" stroke-width="1.3" stroke-linecap="butt"/>
<text transform="matrix(1.0225 0 0 1 54.56 1897.73)" font-size="21.5" stroke="#000" stroke-width="0.3" fill="#000">12</text>
<line x1="82.70" y1="2010.90" x2="89.50" y2="2010.90" stroke="#333" stroke-width="1.3" stroke-linecap="butt"/>
<text transform="matrix(1.0271 0 0 1 54.52 2018.22)" font-size="21.5" stroke="#000" stroke-width="0.3" fill="#000">8</text>
<line x1="118.90" y1="2128.00" x2="118.90" y2="2131.00" stroke="#222" stroke-width="1.4" stroke-linecap="butt"/>
<text transform="matrix(1.0414 0 0 1 106.90 2156.80)" font-size="21.5" stroke="#000" stroke-width="0.3" fill="#000">90</text>
<line x1="459.60" y1="2128.00" x2="459.60" y2="2131.00" stroke="#222" stroke-width="1.4" stroke-linecap="butt"/>
<text transform="matrix(1.1033 0 0 1 440.94 2156.80)" font-size="21.5" stroke="#000" stroke-width="0.3" fill="#000">110</text>
<line x1="800.50" y1="2128.00" x2="800.50" y2="2131.00" stroke="#222" stroke-width="1.4" stroke-linecap="butt"/>
<text transform="matrix(1.0569 0 0 1 782.41 2156.80)" font-size="21.5" stroke="#000" stroke-width="0.3" fill="#000">130</text>
<line x1="1141.20" y1="2128.00" x2="1141.20" y2="2131.00" stroke="#222" stroke-width="1.4" stroke-linecap="butt"/>
<text transform="matrix(1.0271 0 0 1 1124.45 2156.80)" font-size="21.5" stroke="#000" stroke-width="0.3" fill="#000">150</text>
<line x1="1482.10" y1="2128.00" x2="1482.10" y2="2131.00" stroke="#222" stroke-width="1.4" stroke-linecap="butt"/>
<text transform="matrix(1.0271 0 0 1 1466.55 2156.80)" font-size="21.5" stroke="#000" stroke-width="0.3" fill="#000">170</text>
<text transform="matrix(0.9874 0 0 1 3.62 1707.40)" font-size="35" font-weight="bold" fill="#000">G</text>
<text transform="matrix(1.0387 0 0 1 689.25 1709.80)" font-size="26.4" stroke="#000" stroke-width="0.3" fill="#000">Temperature</text>
<text transform="matrix(0.9997 0 0 1 749.19 2187.30)" font-size="26.4" stroke="#000" stroke-width="0.3" fill="#000">Day of year</text>
<text transform="translate(38.10 1896.79) rotate(-90) scale(0.8049 1)" font-size="27" stroke="#000" stroke-width="0.3" fill="#000">°C</text>
</svg>
</body>
</html>
